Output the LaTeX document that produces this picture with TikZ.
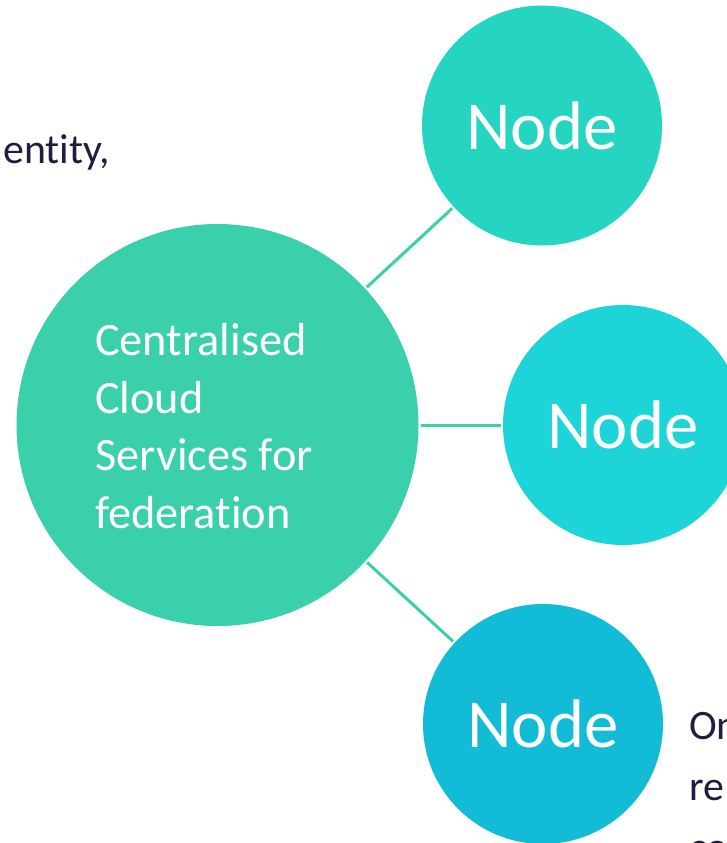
\documentclass[tikz,border=0pt]{standalone}
\usepackage{fontspec}
\setmainfont{Carlito}[Ligatures={NoCommon}]
\definecolor{bigc}{HTML}{39D0AB}
\definecolor{topc}{HTML}{26D5C1}
\definecolor{midc}{HTML}{1DD5D8}
\definecolor{botc}{HTML}{13BCD6}
\definecolor{darktext}{HTML}{1E1E40}
\begin{document}
\begin{tikzpicture}[x=1bp,y=-1bp,
  bigcirc/.style={circle, fill=bigc, draw=none, minimum size=402bp, inner sep=0pt},
  smallcirc/.style={circle, draw=none, minimum size=240bp, inner sep=0pt, text=white, font=\fontsize{69}{83}\selectfont},
  conn/.style={draw=bigc, line width=3bp, shorten <=2bp, shorten >=2bp},
  sidetext/.style={text=darktext, inner sep=0pt, align=left, font=\fontsize{42}{61}\selectfont}]
\useasboundingbox (0,0) rectangle (727,843);
\clip (0,0) rectangle (727,843);
\node[bigcirc] (c) at (217.5,425) {};
\node[anchor=base west, align=left, inner sep=0pt, text=white, font=\fontsize{46.5}{57.7}\selectfont] (ct) at (95,528) {Centralised\\Cloud\\Services for\\federation};
\node[smallcirc, fill=topc] (n1) at (542,125.5) {Node};
\node[smallcirc, fill=midc] (n2) at (623,425) {Node};
\node[smallcirc, fill=botc] (n3) at (543,724) {Node};
\draw[conn] (c) -- (n1);
\draw[conn] (c) -- (n2);
\draw[conn] (c) -- (n3);
\node[sidetext, anchor=base east] (t1) at (110,163) {entity,};
\node[sidetext, anchor=base west] (t2) at (689,861) {On\\re\\co};
\end{tikzpicture}
\end{document}
